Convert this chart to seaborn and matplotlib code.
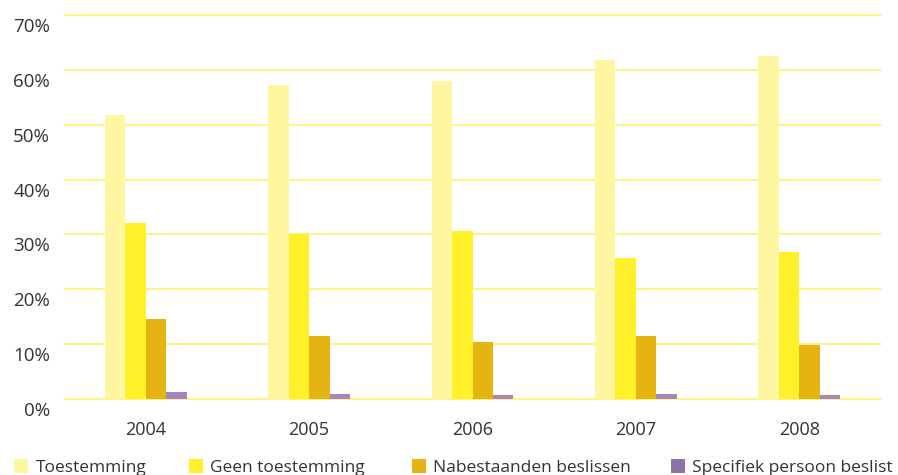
import matplotlib
matplotlib.use("Agg")
import matplotlib.pyplot as plt
import matplotlib.transforms as mtransforms
from matplotlib.patches import Patch
import seaborn as sns
import pandas as pd

years = ["2004", "2005", "2006", "2007", "2008"]
series = ["Toestemming", "Geen toestemming", "Nabestaanden beslissen", "Specifiek persoon beslist"]
toestemming = [51.8, 57.2, 58.0, 61.8, 62.5]
geen_toestemming = [32.1, 30.1, 30.6, 25.7, 26.8]
nabestaanden = [14.6, 11.5, 10.4, 11.5, 9.9]
specifiek = [1.3, 1.0, 0.8, 1.0, 0.8]
yticks = [0, 10, 20, 30, 40, 50, 60, 70]
ytick_labels = ["0%", "10%", "20%", "30%", "40%", "50%", "60%", "70%"]

bar_colors = ["#FFF6A1", "#FFF02A", "#E6B412", "#A587BB"]
legend_colors = ["#FFF6A1", "#FFF02A", "#E6B412", "#8C74A6"]
legend_x_px = [12, 187, 410, 669]

rows = []
for name, vals in zip(series, [toestemming, geen_toestemming, nabestaanden, specifiek]):
    for y, v in zip(years, vals):
        rows.append({"jaar": y, "pct": v, "type": name})
df = pd.DataFrame(rows)

sns.set_theme(style="white")
plt.rcParams["font.family"] = ["Open Sans", "DejaVu Sans"]

fig = plt.figure(figsize=(8.98, 4.75), dpi=100)
ax = fig.add_axes([64 / 898, 1 - 399 / 475, 817 / 898, 384 / 475])

sns.barplot(data=df, x="jaar", y="pct", hue="type", order=years, hue_order=series,
            palette=dict(zip(series, bar_colors)), width=0.5, saturation=1,
            errorbar=None, ax=ax, legend=False, zorder=3, linewidth=0)

ax.set_ylim(0, 70)
ax.set_xlim(-0.5, 4.5)
ax.set_yticks(yticks)
ax.set_yticklabels(ytick_labels)
ax.yaxis.grid(True, color="#FFF27C", linewidth=1.3, zorder=0)
ax.xaxis.grid(False)
for g in ax.get_ygridlines():
    g.set_clip_on(False)
for s in ax.spines.values():
    s.set_visible(False)
ax.set_xlabel("")
ax.set_ylabel("")
ax.tick_params(axis="y", length=0, pad=10, labelsize=13.5, labelcolor="#333333")
ax.tick_params(axis="x", length=0, pad=16, labelsize=13, labelcolor="#333333")

offset = mtransforms.ScaledTranslation(0, -10 / 100, fig.dpi_scale_trans)
for lab in ax.get_yticklabels():
    lab.set_transform(lab.get_transform() + offset)

for name, col, xp in zip(series, legend_colors, legend_x_px):
    fig.legend([Patch(facecolor=col, edgecolor="none")], [name], loc="lower left",
               bbox_to_anchor=(xp / 898, -0.006), frameon=False, fontsize=12.5,
               handlelength=0.8, handleheight=0.8, handletextpad=0.45,
               borderpad=0.1, borderaxespad=0.0, labelcolor="#333333")

fig.savefig("out.png", dpi=100)
